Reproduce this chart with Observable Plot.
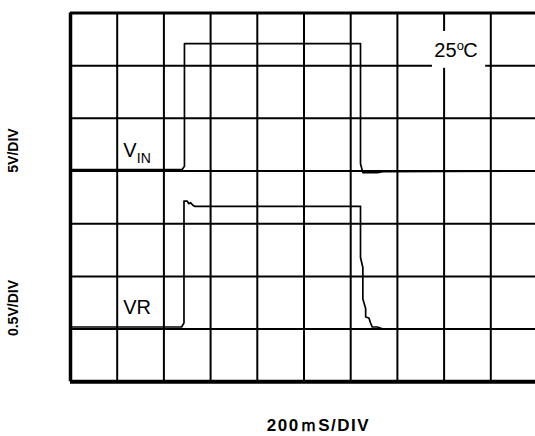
<!DOCTYPE html>
<html>
<head>
<meta charset="utf-8">
<script src="https://cdn.jsdelivr.net/npm/d3@7"></script>
<script src="https://cdn.jsdelivr.net/npm/@observablehq/plot@0.6"></script>
<style>
  html, body { margin: 0; padding: 0; background: #fff; overflow: hidden; }
  #chart { width: 535px; height: 436px; overflow: hidden; }
  #chart svg { display: block; max-width: none !important; width: 545px !important; height: 436px !important; }
</style>
</head>
<body>
<div id="chart"></div>
<script>
// Grid divisions (scope graticule)
const gridCols = [1, 2, 3, 4, 5, 6, 7, 8, 9];
const gridRows = [1, 2, 3, 4, 5, 6];

// V_IN trace (time in divisions, level in divisions)
const vinTime  = [0, 2.39, 2.44, 2.44, 2.48, 6.21, 6.21, 6.26, 6.57, 6.69, 10];
const vinLevel = [4.03, 4.03, 4.09, 6.42, 6.42, 6.42, 4.14, 3.97, 3.97, 3.99, 4.0];

// VR trace
const vrTime  = [0, 2.38, 2.43, 2.43, 2.50, 2.53, 2.57, 2.62, 2.66, 6.21, 6.21, 6.26, 6.26, 6.32, 6.32, 6.39, 6.42, 6.46, 6.57, 6.69, 10];
const vrLevel = [1.04, 1.04, 1.12, 3.43, 3.43, 3.38, 3.40, 3.35, 3.33, 3.33, 2.36, 2.17, 1.57, 1.39, 1.23, 1.21, 1.13, 1.04, 1.04, 1.0, 1.0];

// Texts
const vinLabel = ["V", "IN"];
const vrLabel = ["VR"];
const tempLabel = ["25", "o", "C"];
const yLabels = ["5V/DIV", "0.5V/DIV"];
const xLabel = ["200\uFF4DS/DIV"];

const vin = vinTime.map((t, i) => ({t, v: vinLevel[i]}));
const vr = vrTime.map((t, i) => ({t, v: vrLevel[i]}));

const font = "'Liberation Sans', Arial, sans-serif";

const chart = Plot.plot({
  width: 545,
  height: 436,
  marginLeft: 70,
  marginRight: 8,
  marginTop: 12.5,
  marginBottom: 54.7,
  style: {fontFamily: font, background: "#fff"},
  x: {domain: [0, 10], axis: null},
  y: {domain: [0, 7], axis: null},
  marks: [
    Plot.ruleX(gridCols, {stroke: "#000", strokeWidth: 2}),
    Plot.ruleY(gridRows, {stroke: "#000", strokeWidth: 2}),
    // white label box behind temperature
    Plot.rect([0], {x1: 7.75, x2: 8.89, y1: 5.95, y2: 6.65, fill: "#fff"}),
    Plot.line(vin, {x: "t", y: "v", stroke: "#000", strokeWidth: 1.7, curve: "linear"}),
    Plot.line(vr, {x: "t", y: "v", stroke: "#000", strokeWidth: 1.7, curve: "linear"}),
    // frame
    Plot.ruleX([0], {stroke: "#000", strokeWidth: 3.5}),
    Plot.ruleX([10], {stroke: "#000", strokeWidth: 3.5}),
    Plot.ruleY([7], {stroke: "#000", strokeWidth: 3}),
    Plot.ruleY([0], {stroke: "#000", strokeWidth: 4}),
    // trace labels
    Plot.text([vinLabel[0]], {x: 1.127, y: 4.275, text: d => d, textAnchor: "start", lineAnchor: "bottom", fontSize: 20, fill: "#000"}),
    Plot.text([vinLabel[1]], {x: 1.42, y: 4.15, text: d => d, textAnchor: "start", lineAnchor: "bottom", fontSize: 14, fill: "#000"}),
    Plot.text(vrLabel, {x: 1.127, y: 1.29, text: d => d, textAnchor: "start", lineAnchor: "bottom", fontSize: 20, fill: "#000"}),
    Plot.text([tempLabel[0]], {x: 7.79, y: 6.16, text: d => d, textAnchor: "start", lineAnchor: "bottom", fontSize: 20, fill: "#000"}),
    Plot.text([tempLabel[1]], {x: 8.27, y: 6.30, text: d => d, textAnchor: "start", lineAnchor: "bottom", fontSize: 13, fill: "#000"}),
    Plot.text([tempLabel[2]], {x: 8.41, y: 6.16, text: d => d, textAnchor: "start", lineAnchor: "bottom", fontSize: 20, fill: "#000"}),
    // axis labels
    Plot.text([yLabels[0]], {x: 0, y: 4.39, dx: -56.7, text: d => d, rotate: -90, textAnchor: "middle", lineAnchor: "middle", fontSize: 14, fontWeight: "bold", fill: "#000"}),
    Plot.text([yLabels[1]], {x: 0, y: 1.40, dx: -56.7, text: d => d, rotate: -90, textAnchor: "middle", lineAnchor: "middle", fontSize: 14, fontWeight: "bold", fill: "#000"}),
    Plot.text(xLabel, {x: 5.31, frameAnchor: "bottom", dy: 48.7, text: d => d, textAnchor: "middle", lineAnchor: "bottom", fontSize: 17, fontWeight: "bold", fill: "#000"})
  ]
});
d3.select(chart).selectAll("text")
  .filter(function () { return this.textContent === xLabel[0]; })
  .attr("letter-spacing", "1.5")
  .style("letter-spacing", "1.5px");
document.getElementById("chart").appendChild(chart);
</script>
</body>
</html>
